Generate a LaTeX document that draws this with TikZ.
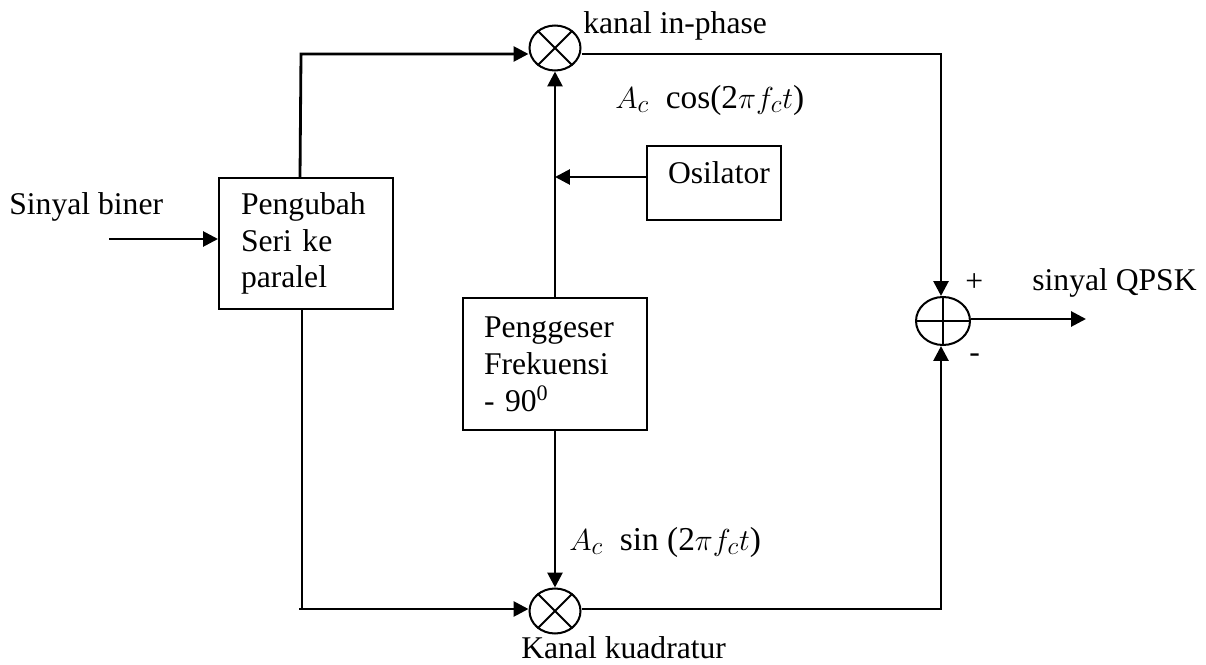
\documentclass[tikz,border=0pt]{standalone}
\usepackage{fontspec}
\setmainfont{Liberation Serif}
\usetikzlibrary{arrows.meta, positioning, shapes.geometric}

\begin{document}
\begin{tikzpicture}[x=0.02cm, y=-0.02cm,
  every node/.append style={font=\fontsize{18}{21}\selectfont},
  blk/.style={draw, line width=1.15pt, align=left, inner sep=0pt, anchor=north west},
  mix/.style={draw, ellipse, line width=1.15pt, inner sep=0pt, minimum width=1.02cm, minimum height=0.9cm},
  lbl/.style={inner sep=0pt, anchor=west},
  mlbl/.style={lbl, font=\fontsize{19}{21}\selectfont},
  arr/.style={-{Triangle[length=8.5pt, width=8.5pt]}, line width=1.6pt},
  wire/.style={line width=1.6pt},
  thinw/.style={line width=1.1pt},
]
\useasboundingbox (0,0) rectangle (1206,665);
% Blocks
\node[blk, minimum width=3.48cm, minimum height=2.62cm, text width=2.6cm] at (218,177) (conv)
  {Pengubah\\Seri ke\\paralel};
\node[blk, minimum width=2.68cm, minimum height=1.48cm, text width=1.84cm, text depth=12pt] at (646,145) (osc)
  {Osilator};
\node[blk, minimum width=3.68cm, minimum height=2.64cm, text width=2.84cm] at (462,297) (shift)
  {Penggeser\\Frekuensi\\- 90\textsuperscript{0}};
% Mixers and summer
\node[mix] at (555,48)  (mixI) {};
\node[mix] at (555,611) (mixQ) {};
\node[mix, minimum width=1.08cm, minimum height=0.96cm] at (943,321) (sum) {};
\draw[thinw] (mixI.45) -- (mixI.225) (mixI.135) -- (mixI.315);
\draw[thinw] (mixQ.45) -- (mixQ.225) (mixQ.135) -- (mixQ.315);
\draw[thinw] (sum.north) -- (sum.south) (sum.west) -- (sum.east);
% Corner points
\coordinate (inL)   at (109,239);
\coordinate (inR)   at (conv.west |- inL);
\coordinate (topS)  at (300,177);
\coordinate (topL)  at (301,54);
\coordinate (botS)  at (302,309);
\coordinate (botL)  at (302,609);
\coordinate (botE)  at (299,609);
\coordinate (topR)  at (941,54);
\coordinate (botR)  at (941,609);
\coordinate (tap)   at (646,177);
\coordinate (outR)  at (1086,319);
% Arrows
\draw[arr] (inL) -- (inR);
\draw[arr] (topS) -- (topL) -- (topL -| mixI.west);
\draw[wire] (botS) -- (botL);
\draw[arr] (botE) -- (botL -| mixQ.west);
\draw[arr] (shift.north) -- (shift.north |- mixI.south);
\draw[arr] (shift.south) -- (shift.south |- mixQ.north);
\draw[arr] (tap) -- (tap -| shift.north);
\draw[arr] (topL -| mixI.east) -- (topR) -- (topR |- sum.north);
\draw[arr] (botL -| mixQ.east) -- (botR) -- (botR |- sum.south);
\draw[arr] (sum.east |- outR) -- (outR);
% Labels
\node[lbl] at (9,207)    (inlbl)  {Sinyal biner};
\node[lbl] at (583,26)   (ilbl)   {kanal in-phase};
\node[mlbl] at (615,100) (coslbl) {$A_c$\ \ cos(2$\pi f_c t$)};
\node[mlbl] at (569,542) (sinlbl) {$A_c$\ \ sin (2$\pi f_c t$)};
\node[lbl] at (521,648)  (qlbl)   {Kanal kuadratur};
\node[lbl] at (1032,283) (outlbl) {sinyal QPSK};
\node[lbl] at (965,283)  (plus)   {+};
\node[lbl] at (969,358)  (minus)  {-};
\end{tikzpicture}
\end{document}
